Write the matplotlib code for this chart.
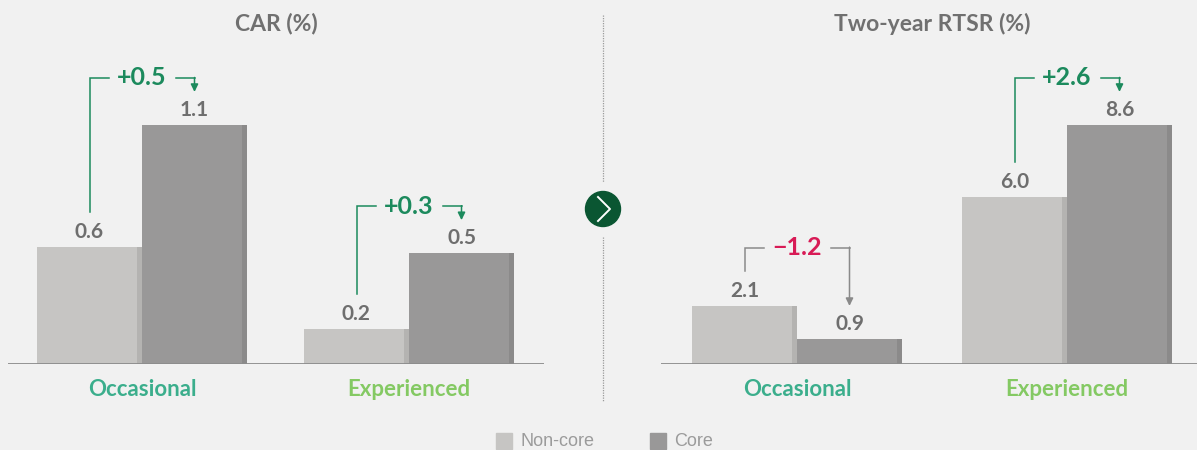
import numpy as np
import matplotlib
matplotlib.use("Agg")
import matplotlib.pyplot as plt
from matplotlib.patches import Circle, Rectangle
from matplotlib.lines import Line2D

plt.rcParams['font.family'] = ['Lato', 'DejaVu Sans']

# data
groups = ['Occasional', 'Experienced']
group_colors = ['#3bae8c', '#84c963']

car_noncore = [0.54, 0.16]
car_core = [1.10, 0.51]
car_noncore_lbl = ['0.6', '0.2']
car_core_lbl = ['1.1', '0.5']
car_delta = ['+0.5', '+0.3']

rtsr_noncore = [2.1, 6.0]
rtsr_core = [0.9, 8.6]
rtsr_noncore_lbl = ['2.1', '6.0']
rtsr_core_lbl = ['0.9', '8.6']
rtsr_delta = ['\u22121.2', '+2.6']

legend_labels = ['Non-core', 'Core']

# styles
BG = '#f1f1f1'
NC, NC_EDGE = '#c6c5c3', '#b4b3b1'
CO, CO_EDGE = '#999898', '#8b8a8a'
VAL = '#6e6e6e'
GREEN, RED, GREY_LINE = '#1c8a5d', '#d81b56', '#8a8a8a'

W, H = 1197, 450
fig = plt.figure(figsize=(W / 100, H / 100), dpi=100, facecolor=BG)


def panel(x0, x1, cx0, gap, scale, noncore, core, nc_lbl, co_lbl, deltas, title):
    base = 364
    ax = fig.add_axes([x0 / W, 1 - base / H, (x1 - x0) / W, base / H])
    ax.set_facecolor('none')
    ytop = base / scale
    ax.set_ylim(0, ytop)
    ax.set_xlim((x0 - cx0) / gap, (x1 - cx0) / gap)
    ax.axis('off')
    px_y = ytop / base
    px_x = 1 / gap

    x = np.arange(len(groups))
    w = 105 / gap
    s = 5 / gap
    ax.bar(x - w / 2, noncore, w, color=NC, zorder=2)
    ax.bar(x - s, noncore, s, align='edge', color=NC_EDGE, zorder=3)
    ax.bar(x + w / 2, core, w, color=CO, zorder=2)
    ax.bar(x + w - s, core, s, align='edge', color=CO_EDGE, zorder=3)
    ax.axhline(0, color='#8c8c8c', lw=1.3, zorder=4)

    for i in range(len(groups)):
        xn, xc = x[i] - w / 2, x[i] + w / 2
        ax.text(xn, noncore[i] + 15 * px_y, nc_lbl[i], ha='center', va='center',
                fontsize=15, fontweight='bold', color=VAL)
        ax.text(xc, core[i] + 15 * px_y, co_lbl[i], ha='center', va='center',
                fontsize=15, fontweight='bold', color=VAL)
        ax.text(x[i], -26 * px_y, groups[i], ha='center', va='center',
                fontsize=16, fontweight='bold', color=group_colors[i])

        neg = deltas[i].startswith('\u2212')
        col = RED if neg else GREEN
        lc = GREY_LINE if neg else GREEN
        yb = max(noncore[i], core[i]) + (58 if neg else 47) * px_y
        ax.plot([xn, xn, xn + 19 * px_x], [noncore[i] + 35 * px_y, yb, yb],
                color=lc, lw=1.1, solid_joinstyle='miter')
        ax.plot([xc - 19 * px_x, xc], [yb, yb], color=lc, lw=1.1)
        ax.annotate('', xy=(xc, core[i] + 33 * px_y), xytext=(xc, yb + 0.5 * px_y),
                    arrowprops=dict(arrowstyle='-|>,head_length=0.45,head_width=0.22',
                                    color=lc, lw=1.1, shrinkA=0, shrinkB=0))
        ax.text(x[i], yb, deltas[i], ha='center', va='center', fontsize=18,
                fontweight='bold', color=col)

    tx = ((x0 + x1) / 2 if x1 < W else cx0 + gap / 2) / W
    fig.text(tx, 1 - 24 / H, title, ha='center', va='center',
             fontsize=16.5, fontweight='bold', color='#707070')


panel(8, 544, 142, 267, 217.3, car_noncore, car_core, car_noncore_lbl, car_core_lbl,
      car_delta, 'CAR (%)')
panel(661, 1197, 797, 270, 27.8, rtsr_noncore, rtsr_core, rtsr_noncore_lbl, rtsr_core_lbl,
      rtsr_delta, 'Two-year RTSR (%)')

# overlay: separator, arrow circle, legend
ov = fig.add_axes([0, 0, 1, 1])
ov.set_xlim(0, W)
ov.set_ylim(H, 0)
ov.axis('off')
ov.set_facecolor('none')
for y0, y1 in [(15, 182), (237, 402)]:
    ov.add_line(Line2D([603, 603], [y0, y1], color='#9a9a9a', lw=0.9, ls=(0, (1, 1))))
ov.add_patch(Circle((603, 209), 17.5, color='#0a5632'))
ov.plot([598, 610, 598], [197, 209, 221], color='white', lw=1.4)

lx = [496, 650]
for xi, lab, c in zip(lx, legend_labels, [NC, CO]):
    ov.add_patch(Rectangle((xi, 433), 16, 16, color=c))
    ov.text(xi + 24, 441, lab, ha='left', va='center', fontsize=13, color='#9b9b9b',
            family=['Liberation Sans', 'DejaVu Sans'])

fig.savefig('out.png', dpi=100, facecolor=BG)
